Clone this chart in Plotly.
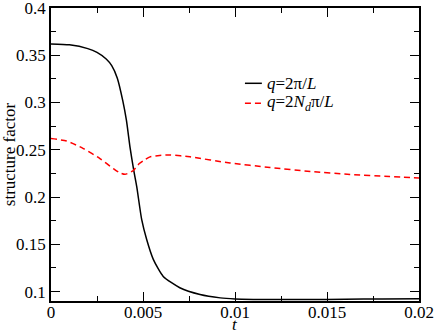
import plotly.graph_objects as go

# Series 1: q = 2π/L (black solid)
t_black = [0, 0.001, 0.002, 0.0025, 0.003, 0.0033, 0.0036, 0.0039, 0.0041,
           0.0043, 0.0045, 0.00466, 0.00493, 0.0052, 0.00556, 0.0061, 0.0070,
           0.0081, 0.0092, 0.0100, 0.011, 0.012, 0.014, 0.016, 0.018, 0.020]
s_black = [0.362, 0.361, 0.357, 0.353, 0.346, 0.339, 0.326, 0.302, 0.281,
           0.252, 0.228, 0.211, 0.176, 0.155, 0.134, 0.116, 0.104,
           0.0968, 0.0933, 0.0922, 0.0917, 0.0915, 0.0915, 0.0918, 0.0922, 0.0925]

# Series 2: q = 2N_d π/L (red dashed)
t_red = [0, 0.00085, 0.00176, 0.00266, 0.00339, 0.0037, 0.00402, 0.00447,
         0.0048, 0.0051, 0.00538, 0.00590, 0.00647, 0.00755, 0.00973, 0.0119,
         0.0141, 0.01625, 0.0184, 0.0200]
s_red = [0.2618, 0.2593, 0.2513, 0.2407, 0.2300, 0.2260, 0.2240, 0.2280,
         0.2355, 0.2395, 0.2425, 0.2440, 0.2445, 0.2425, 0.2360, 0.2313,
         0.2270, 0.2239, 0.2218, 0.2202]

series_names = ["<i>q</i>=2π/<i>L</i>", "<i>q</i>=2<i>N<sub>d</sub></i>π/<i>L</i>"]
series_colors = ["black", "#ff0000"]
series_dash = ["solid", "6px,4px"]

x_ticks = [0, 0.005, 0.01, 0.015, 0.02]
x_labels = ["0", "0.005", "0.01", "0.015", "0.02"]
y_ticks = [0.1, 0.15, 0.2, 0.25, 0.3, 0.35, 0.4]
y_labels = ["0.1", "0.15", "0.2", "0.25", "0.3", "0.35", "0.4"]

FONT = "Liberation Serif"
FS = 17

fig = go.Figure()
for tx, sy, nm, col, dsh in [(t_black, s_black, series_names[0], series_colors[0], series_dash[0]),
                             (t_red, s_red, series_names[1], series_colors[1], series_dash[1])]:
    fig.add_trace(go.Scatter(x=tx, y=sy, mode="lines", name=nm, showlegend=False,
                             line=dict(color=col, width=1.5, dash=dsh, shape="spline", smoothing=0.6)))

axis_common = dict(showline=True, linecolor="black", linewidth=1.5, mirror="allticks",
                   ticks="inside", ticklen=9, tickwidth=1, tickcolor="black",
                   showgrid=False, zeroline=False, automargin=False,
                   ticklabeloverflow="allow",
                   tickfont=dict(family=FONT, size=FS, color="black"))

fig.update_xaxes(range=[0, 0.02], tickmode="array", tickvals=x_ticks, ticktext=x_labels,
                 ticklabelstandoff=-5,
                 minor=dict(ticks="inside", ticklen=5, tickwidth=1, tickcolor="black",
                            dtick=0.0025, tick0=0, showgrid=False),
                 **axis_common)
fig.update_yaxes(range=[0.09, 0.4], tickmode="array", tickvals=y_ticks, ticktext=y_labels,
                 minor=dict(ticks="inside", ticklen=5, tickwidth=1, tickcolor="black",
                            dtick=0.025, tick0=0.1, showgrid=False),
                 title=dict(text="structure factor", font=dict(family=FONT, size=FS, color="black"), standoff=2),
                 **axis_common)

# x-axis title
fig.add_annotation(xref="paper", yref="paper", x=0.5, y=-0.080, xanchor="center", yanchor="middle",
                   text="<i>t</i>", showarrow=False, font=dict(family=FONT, size=FS, color="black"))

# Manual legend (line samples + labels), placed in paper coordinates
leg_y = [0.743, 0.675]
for i in range(2):
    fig.add_shape(type="line", xref="paper", yref="paper", x0=0.527, x1=0.573,
                  y0=leg_y[i], y1=leg_y[i],
                  line=dict(color=series_colors[i], width=1.5, dash=series_dash[i]))
    fig.add_annotation(xref="paper", yref="paper", x=0.582, y=leg_y[i], xanchor="left", yanchor="middle",
                       text=series_names[i], showarrow=False,
                       font=dict(family=FONT, size=FS, color="black"))

fig.update_layout(width=436, height=333,
                  margin=dict(l=51, r=17, t=7.5, b=31.5),
                  paper_bgcolor="white", plot_bgcolor="white",
                  showlegend=False)

fig.write_html("out.html", config={"displayModeBar": False},
               post_script="document.body.style.margin='0';document.body.style.overflow='hidden';")
